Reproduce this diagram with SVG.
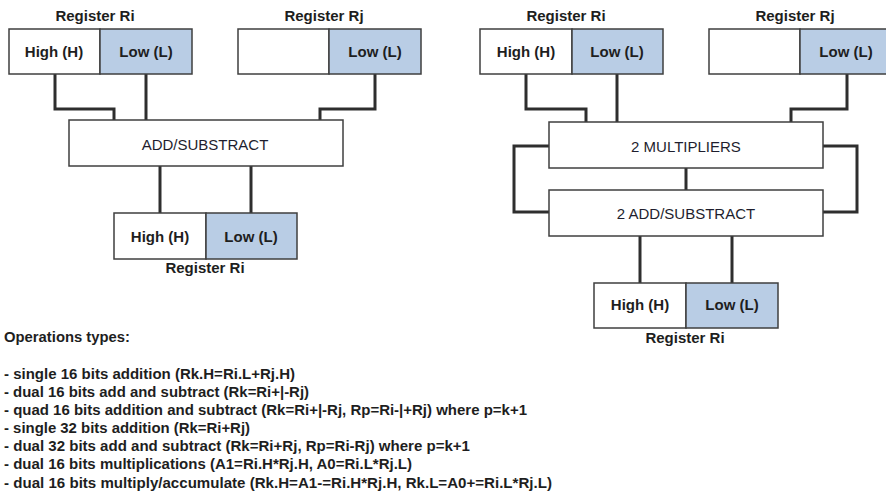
<svg xmlns="http://www.w3.org/2000/svg" width="886" height="494" viewBox="0 0 886 494">
<style>
.box{fill:#fff;stroke:#3f3f3f;stroke-width:1.5}
.lo{fill:#b9cde5;stroke:#3f3f3f;stroke-width:1.5}
.b{font-family:"Liberation Sans",Arial,sans-serif;font-size:15px;font-weight:bold;fill:#1e1e1e}
.n{font-family:"Liberation Sans",Arial,sans-serif;font-size:15px;fill:#1e1e2e}
.m{text-anchor:middle}
.w{fill:none;stroke:#2e2e2e;stroke-width:3}
</style>
<rect width="886" height="494" fill="#fff"/>
<g id="connectors" class="w">
<polyline points="55,74 55,109 114,109 114,120"/>
<line x1="146" y1="74" x2="146" y2="120"/>
<polyline points="375,74 375,109 320,109 320,120"/>
<line x1="160" y1="166" x2="160" y2="213"/>
<line x1="251" y1="166" x2="251" y2="213"/>
<polyline points="526,74 526,109 586,109 586,122"/>
<line x1="617" y1="74" x2="617" y2="122"/>
<polyline points="847,74 847,109 791,109 791,122"/>
<polyline points="549,146 514,146 514,212 549,212"/>
<polyline points="823,146 857,146 857,212 823,212"/>
<line x1="686" y1="168" x2="686" y2="190"/>
<line x1="640" y1="236" x2="640" y2="283"/>
<line x1="732" y1="236" x2="732" y2="283"/>
</g>
<g id="regRi_left">
<text class="b m" x="95" y="21">Register Ri</text>
<rect class="box" x="9" y="29" width="91" height="45"/>
<rect class="lo" x="100" y="29" width="92" height="45"/>
<text class="b m" x="54" y="57">High (H)</text>
<text class="b m" x="146" y="57">Low (L)</text>
</g>
<g id="regRj_left">
<text class="b m" x="324" y="21">Register Rj</text>
<rect class="box" x="238" y="29" width="91" height="45"/>
<rect class="lo" x="329" y="29" width="92" height="45"/>
<text class="b m" x="375" y="57">Low (L)</text>
</g>
<g id="addsub_left">
<rect class="box" x="69" y="120" width="274" height="46"/>
<text class="n m" x="205" y="150">ADD/SUBSTRACT</text>
</g>
<g id="regRi_left_out">
<rect class="box" x="114" y="213" width="92" height="46"/>
<rect class="lo" x="206" y="213" width="91" height="46"/>
<text class="b m" x="160" y="242">High (H)</text>
<text class="b m" x="251" y="242">Low (L)</text>
<text class="b m" x="205" y="273">Register Ri</text>
</g>
<g id="regRi_right">
<text class="b m" x="566" y="21">Register Ri</text>
<rect class="box" x="480" y="29" width="92" height="45"/>
<rect class="lo" x="572" y="29" width="91" height="45"/>
<text class="b m" x="526" y="57">High (H)</text>
<text class="b m" x="617" y="57">Low (L)</text>
</g>
<g id="regRj_right">
<text class="b m" x="795" y="21">Register Rj</text>
<rect class="box" x="709" y="29" width="91" height="45"/>
<rect class="lo" x="800" y="29" width="92" height="45"/>
<text class="b m" x="846" y="57">Low (L)</text>
</g>
<g id="multipliers">
<rect class="box" x="549" y="122" width="274" height="46"/>
<text class="n m" x="686" y="152">2 MULTIPLIERS</text>
</g>
<g id="addsub_right">
<rect class="box" x="549" y="190" width="274" height="46"/>
<text class="n m" x="686" y="219">2 ADD/SUBSTRACT</text>
</g>
<g id="regRi_right_out">
<rect class="box" x="594" y="283" width="92" height="45"/>
<rect class="lo" x="686" y="283" width="92" height="45"/>
<text class="b m" x="640" y="310">High (H)</text>
<text class="b m" x="732" y="310">Low (L)</text>
<text class="b m" x="685" y="343">Register Ri</text>
</g>
<g id="operations">
<text class="b" x="4" y="342" textLength="126" lengthAdjust="spacingAndGlyphs">Operations types:</text>
<text class="b" x="4" y="379" textLength="291" lengthAdjust="spacingAndGlyphs">- single 16 bits addition (Rk.H=Ri.L+Rj.H)</text>
<text class="b" x="4" y="397" textLength="305" lengthAdjust="spacingAndGlyphs">- dual 16 bits add and subtract (Rk=Ri+|-Rj)</text>
<text class="b" x="4" y="415" textLength="523" lengthAdjust="spacingAndGlyphs">- quad 16 bits addition and subtract (Rk=Ri+|-Rj, Rp=Ri-|+Rj) where p=k+1</text>
<text class="b" x="4" y="433" textLength="246" lengthAdjust="spacingAndGlyphs">- single 32 bits addition (Rk=Ri+Rj)</text>
<text class="b" x="4" y="451" textLength="466" lengthAdjust="spacingAndGlyphs">- dual 32 bits add and subtract (Rk=Ri+Rj, Rp=Ri-Rj) where p=k+1</text>
<text class="b" x="4" y="469" textLength="408" lengthAdjust="spacingAndGlyphs">- dual 16 bits multiplications (A1=Ri.H*Rj.H, A0=Ri.L*Rj.L)</text>
<text class="b" x="4" y="488" textLength="548" lengthAdjust="spacingAndGlyphs">- dual 16 bits multiply/accumulate (Rk.H=A1-=Ri.H*Rj.H, Rk.L=A0+=Ri.L*Rj.L)</text>
</g>
</svg>
